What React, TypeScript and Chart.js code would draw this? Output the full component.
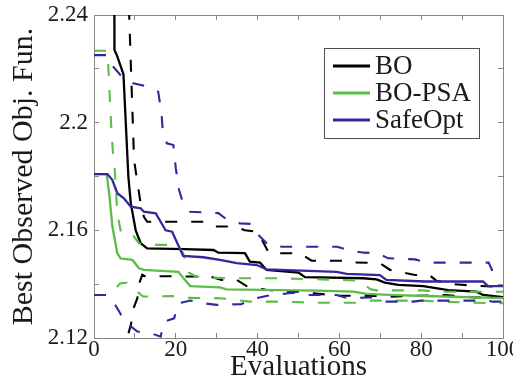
import { useEffect, useRef } from 'react';
import { Chart, registerables } from 'chart.js';

Chart.register(...registerables);

type Pt = [number, number];

// ---------------- data ----------------
const seriesNames = ['BO', 'BO-PSA', 'SafeOpt'];
const seriesColors = ['#000000', '#5cbd48', '#33289b'];

const xTickLabels = [0, 20, 40, 60, 80, 100];
const yTickLabels = [2.12, 2.16, 2.2, 2.24];

// BO (black)
const boMean: Pt[] = [
  [0, 2.45], [4.8, 2.45], [5.0, 2.227], [5.6, 2.225], [7.2, 2.218], [8.4, 2.18], [9.0, 2.17],
  [10.2, 2.16], [11.4, 2.1552], [13, 2.1533], [22, 2.153], [29.2, 2.1527], [30.4, 2.1517],
  [36.9, 2.1515], [38.1, 2.1484], [40.6, 2.148], [42.2, 2.1453], [50, 2.1443], [51.6, 2.1426],
  [65.8, 2.1422], [69.1, 2.1418], [71.1, 2.1406], [74.4, 2.1397], [80.5, 2.1393], [86.6, 2.1378],
  [93.5, 2.1372], [95.1, 2.136], [100, 2.1352],
];
const boUpper: Pt[] = [
  [0, 2.8], [8.3, 2.8], [8.6, 2.24], [9.8, 2.186], [10.4, 2.18], [11.4, 2.17], [12.2, 2.165],
  [13, 2.1632], [27.5, 2.1632], [28.4, 2.1624], [29.5, 2.1614], [34.5, 2.1614], [36.9, 2.16],
  [40, 2.1595], [42.8, 2.1515], [50.4, 2.1515], [53.2, 2.1487], [62, 2.1487], [63, 2.1481],
  [69.9, 2.1478], [72.4, 2.1453], [75.5, 2.1443], [78.5, 2.1434], [82, 2.1434], [83.7, 2.1413],
  [87.8, 2.14], [94.4, 2.1393], [100, 2.139],
];
const boLower: Pt[] = [
  [0, 1.95], [7.7, 1.95], [8.1, 2.12], [9.0, 2.1248], [9.8, 2.1316], [10.6, 2.1348], [11.0, 2.14],
  [11.8, 2.1435], [12.5, 2.143], [28.4, 2.1428], [31.2, 2.1416], [34.9, 2.1416], [37.3, 2.1393],
  [42, 2.1379], [46.7, 2.1372], [50, 2.1372], [55, 2.1364], [60, 2.1357], [69, 2.1356],
  [72.3, 2.1353], [77, 2.1356], [86, 2.136], [93, 2.1351], [100, 2.1351],
];

// BO-PSA (green)
const psaMean: Pt[] = [
  [0, 2.1809], [3.1, 2.1809], [3.7, 2.1738], [4.5, 2.1614], [5.7, 2.1515], [6.5, 2.1496],
  [9.4, 2.149], [11, 2.1459], [12.2, 2.1453], [20.6, 2.1446], [23.5, 2.1393], [30.8, 2.1388],
  [32.4, 2.1381], [45.5, 2.1378], [54.4, 2.1376], [63.4, 2.1372], [66.6, 2.1364], [72.3, 2.136],
  [80.9, 2.1356], [100, 2.1348],
];
const psaUpper: Pt[] = [
  [0, 2.2267], [3.1, 2.2267], [3.5, 2.2208], [3.9, 2.2084], [4.3, 2.196], [4.7, 2.1874],
  [5.1, 2.182], [5.7, 2.1663], [6.5, 2.16], [8.6, 2.16], [11, 2.1552], [12.2, 2.1546],
  [20.4, 2.1546], [21.8, 2.1515], [23.2, 2.1443], [25, 2.1428], [32, 2.1422], [45, 2.1422],
  [52, 2.1419], [60, 2.1416], [65, 2.1413], [67.5, 2.1382], [69, 2.1377], [80, 2.1377],
  [86, 2.1372], [100, 2.1372],
];
const psaLower: Pt[] = [
  [0, 2.136], [3.3, 2.136], [4.7, 2.1372], [6.4, 2.1403], [8, 2.1405], [9.6, 2.1385], [12, 2.1354],
  [19, 2.1356], [22.8, 2.1349], [30, 2.1348], [33, 2.1345], [38, 2.1335], [45, 2.1335],
  [55, 2.1331], [64, 2.1331], [66.5, 2.1339], [80, 2.1339], [85, 2.1335], [93, 2.1331], [100, 2.1329],
];

// SafeOpt (blue)
const safeMean: Pt[] = [
  [0, 2.1809], [3.3, 2.1809], [4.5, 2.1787], [5.7, 2.1738], [7.3, 2.1719], [9, 2.1688],
  [11.4, 2.1682], [12.2, 2.1669], [15.1, 2.1663], [16.3, 2.1632], [17.5, 2.16], [19.1, 2.1595],
  [21.8, 2.1505], [26.7, 2.15], [30.8, 2.149], [34.9, 2.1478], [39.8, 2.1471], [42.2, 2.1455],
  [45.5, 2.1453], [59.3, 2.1446], [61.8, 2.1438], [69.9, 2.1434], [71.5, 2.1416], [80.9, 2.141],
  [95.1, 2.141], [96.3, 2.1393], [100, 2.1393],
];
const safeUpper: Pt[] = [
  [0, 2.2251], [3.3, 2.2251], [4.7, 2.2208], [6.8, 2.2171], [9.6, 2.2146], [12.5, 2.2136],
  [15.7, 2.2115], [16.5, 2.2035], [16.8, 2.1973], [17.8, 2.1923], [19.4, 2.1917], [20.0, 2.183],
  [20.8, 2.175], [21.8, 2.17], [23.5, 2.1669], [28, 2.1666], [30.4, 2.1664], [32.4, 2.1641],
  [35.7, 2.1626], [38.5, 2.1624], [40.2, 2.1583], [42.6, 2.1546], [46, 2.1539], [59.5, 2.1539],
  [62.6, 2.1524], [66, 2.1517], [69.5, 2.1515], [71.9, 2.1496], [78.5, 2.1492], [81.3, 2.148],
  [96.5, 2.148], [97.3, 2.1453], [100, 2.1453],
];
const safeLower: Pt[] = [
  [0, 2.136], [3.3, 2.136], [4.7, 2.1335], [6.4, 2.1292], [7.5, 2.126], [8.6, 2.1248],
  [10.6, 2.1224], [13.9, 2.1218], [16.3, 2.1205], [17.1, 2.1261], [19.6, 2.1273], [20.6, 2.1329],
  [23.6, 2.1339], [26.7, 2.1329], [30, 2.1323], [36, 2.1326], [39.8, 2.1348], [42.4, 2.1357],
  [46, 2.1363], [48.6, 2.1368], [52.8, 2.136], [59.3, 2.136], [62.1, 2.1348], [68, 2.1351],
  [71.5, 2.1335], [78, 2.1335], [80, 2.1339], [96, 2.1339], [97.5, 2.1335], [100, 2.1335],
];

// ---------------- chart ----------------
const FONT = "'Liberation Serif', 'Times New Roman', serif";
const AXIS_COLOR = '#888888';
const TEXT_COLOR = '#1a1a1a';

const toXY = (pts: Pt[]) => pts.map(([x, y]) => ({ x, y }));

const boxLegend = {
  id: 'boxLegend',
  afterDraw(chart: any) {
    const ctx = chart.ctx as CanvasRenderingContext2D;
    const left = 324.5;
    const top = 48.5;
    const w = 155;
    const h = 90;
    ctx.save();
    ctx.fillStyle = '#ffffff';
    ctx.fillRect(left, top, w, h);
    ctx.strokeStyle = '#4d4d4d';
    ctx.lineWidth = 1;
    ctx.strokeRect(left, top, w, h);
    ctx.font = `27px ${FONT}`;
    ctx.textBaseline = 'middle';
    ctx.textAlign = 'left';
    seriesNames.forEach((name, i) => {
      const cy = 66 + i * 27;
      ctx.strokeStyle = seriesColors[i];
      ctx.lineWidth = 3;
      ctx.setLineDash([]);
      ctx.beginPath();
      ctx.moveTo(333, cy);
      ctx.lineTo(370, cy);
      ctx.stroke();
      ctx.fillStyle = TEXT_COLOR;
      ctx.fillText(name, 375, cy + 1);
    });
    ctx.restore();
  },
};

export default function App() {
  const ref = useRef<HTMLCanvasElement>(null);

  useEffect(() => {
    if (!ref.current) return;
    const groups = [
      { name: seriesNames[0], color: seriesColors[0], mean: boMean, upper: boUpper, lower: boLower, order: 2 },
      { name: seriesNames[1], color: seriesColors[1], mean: psaMean, upper: psaUpper, lower: psaLower, order: 1 },
      { name: seriesNames[2], color: seriesColors[2], mean: safeMean, upper: safeUpper, lower: safeLower, order: 0 },
    ];
    const datasets: any[] = [];
    groups.forEach((g) => {
      datasets.push({
        label: g.name,
        data: toXY(g.mean),
        borderColor: g.color,
        backgroundColor: g.color,
        borderWidth: 2.3,
        pointRadius: 0,
        fill: false,
        tension: 0,
        order: g.order,
        clip: 0,
      });
      [g.upper, g.lower].forEach((d, i) => {
        datasets.push({
          label: `${g.name} ${i === 0 ? 'upper' : 'lower'}`,
          data: toXY(d),
          borderColor: g.color,
          backgroundColor: g.color,
          borderWidth: 2.1,
          borderDash: [12, 14],
          pointRadius: 0,
          fill: false,
          tension: 0,
          order: g.order,
          clip: 0,
        });
      });
    });

    const gridOpts = {
      display: true,
      drawOnChartArea: false,
      drawTicks: true,
      tickLength: -5,
      color: AXIS_COLOR,
      lineWidth: 1,
    };
    const borderOpts = { display: true, color: AXIS_COLOR, width: 1 };
    const tickFont = { family: FONT, size: 23 };
    const has = (arr: number[], v: number) => arr.some((t) => Math.abs(t - v) < 1e-6);

    const chart = new Chart(ref.current, {
      type: 'line',
      data: { datasets },
      options: {
        animation: false,
        responsive: false,
        devicePixelRatio: 1,
        layout: { padding: { left: 0, right: 10, top: 15, bottom: 0 } },
        plugins: { legend: { display: false }, tooltip: { enabled: false } },
        scales: {
          x: {
            type: 'linear',
            position: 'bottom',
            min: 0,
            max: 100,
            grid: gridOpts,
            border: borderOpts,
            ticks: {
              stepSize: 10,
              autoSkip: false,
              maxRotation: 0,
              padding: 3,
              color: TEXT_COLOR,
              font: tickFont,
              callback: (v: any) => (has(xTickLabels, Number(v)) ? String(Math.round(Number(v))) : ''),
            },
            title: {
              display: true,
              text: 'Evaluations',
              color: TEXT_COLOR,
              font: { family: FONT, size: 29, lineHeight: 1 },
              padding: { top: 0, bottom: -1 },
            },
            afterFit: (s: any) => {
              s.height = 43;
              s.paddingLeft = 0;
              s.paddingRight = 0;
            },
          },
          y: {
            type: 'linear',
            position: 'left',
            min: 2.12,
            max: 2.24,
            grid: gridOpts,
            border: borderOpts,
            ticks: {
              stepSize: 0.02,
              autoSkip: false,
              padding: 11,
              color: TEXT_COLOR,
              font: tickFont,
              callback: (v: any) => (has(yTickLabels, Number(v)) ? String(Number(Number(v).toFixed(2))) : ''),
            },
            title: {
              display: true,
              text: 'Best Observed Obj. Fun.',
              color: TEXT_COLOR,
              font: { family: FONT, size: 30, lineHeight: 1 },
              padding: { top: 9, bottom: 0 },
            },
            afterFit: (s: any) => {
              s.width = 94;
              s.paddingTop = 0;
              s.paddingBottom = 0;
            },
          },
          xTop: {
            type: 'linear',
            axis: 'x',
            position: 'top',
            min: 0,
            max: 100,
            grid: gridOpts,
            border: borderOpts,
            ticks: { display: false, stepSize: 10, autoSkip: false },
            afterFit: (s: any) => {
              s.height = 0;
              s.paddingLeft = 0;
              s.paddingRight = 0;
            },
          },
          yRight: {
            type: 'linear',
            axis: 'y',
            position: 'right',
            min: 2.12,
            max: 2.24,
            grid: gridOpts,
            border: borderOpts,
            ticks: { display: false, stepSize: 0.02, autoSkip: false },
            afterFit: (s: any) => {
              s.width = 0;
              s.paddingTop = 0;
              s.paddingBottom = 0;
            },
          },
        },
      } as any,
      plugins: [boxLegend],
    });
    return () => chart.destroy();
  }, []);

  return (
    <div style={{ position: 'absolute', left: 0, top: 0, width: 513, height: 381, background: '#ffffff' }}>
      <canvas ref={ref} width={513} height={381} style={{ width: 513, height: 381, display: 'block' }} />
    </div>
  );
}
